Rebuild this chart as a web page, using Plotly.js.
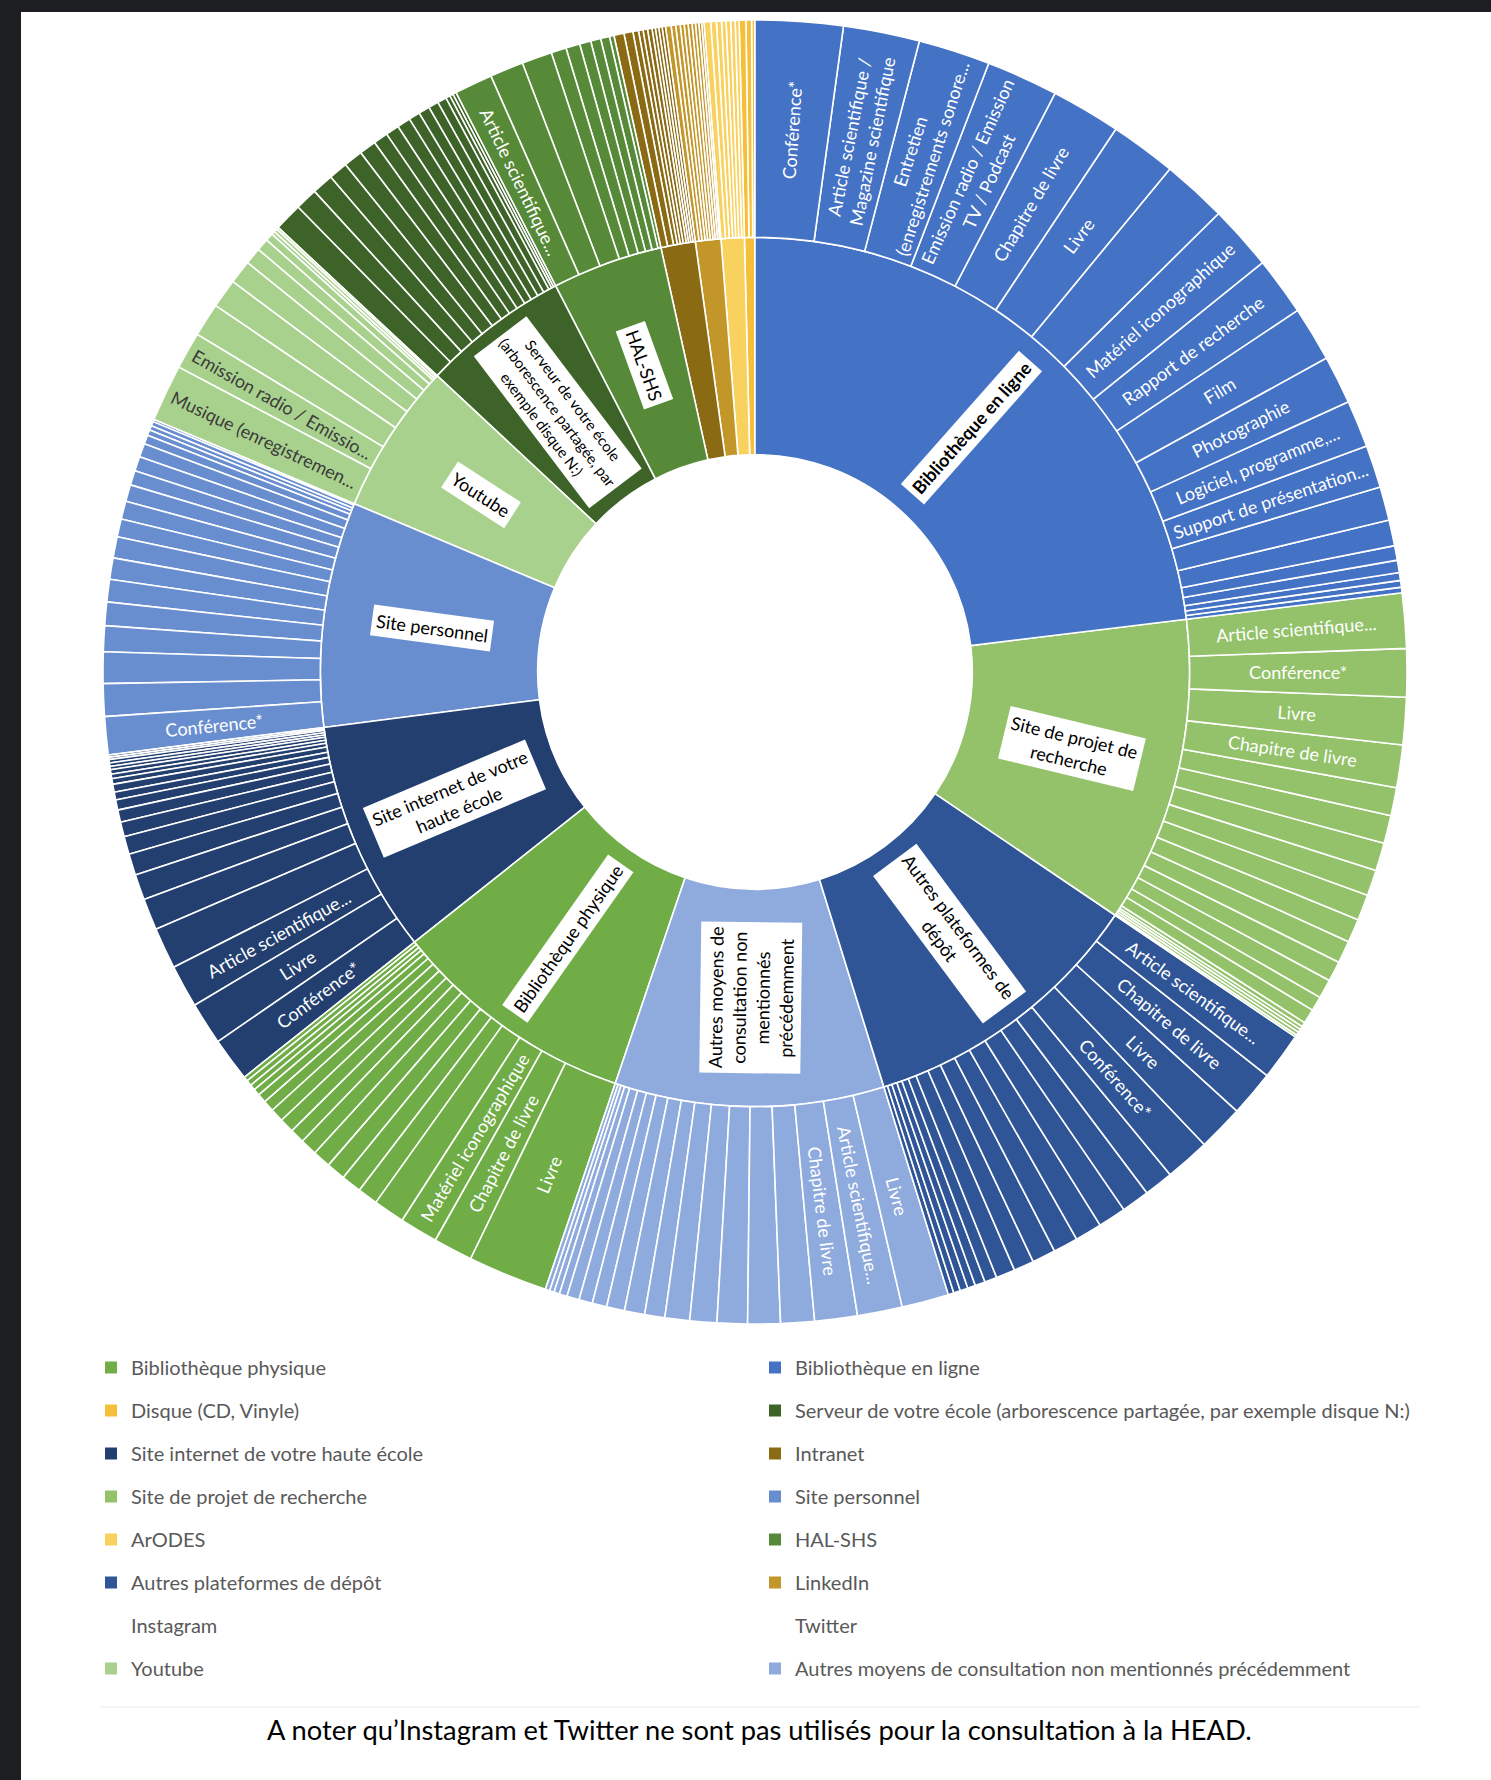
<!DOCTYPE html>
<html>
<head>
<meta charset="utf-8">
<script src="https://cdn.plot.ly/plotly-3.0.1.min.js"></script>
<style>
html,body{margin:0;padding:0;background:#1d1e22;width:1491px;height:1780px;overflow:hidden}
#frame{position:absolute;left:21px;top:12px;width:1470px;height:1768px;background:#ffffff}
#chart{width:1470px;height:1768px}
</style>
</head>
<body>
<div id="frame"><div id="chart"></div></div>
<script>
// ---------- DATA (clockwise from 12 o'clock, as in the reference) ----------
const categories = [
  "Bibliothèque en ligne",
  "Site de projet de recherche",
  "Autres plateformes de dépôt",
  "Autres moyens de consultation non mentionnés précédemment",
  "Bibliothèque physique",
  "Site internet de votre haute école",
  "Site personnel",
  "Youtube",
  "Serveur de votre école (arborescence partagée, par exemple disque N:)",
  "HAL-SHS",
  "Intranet",
  "LinkedIn",
  "ArODES",
  "Disque (CD, Vinyle)"
];
const categoryLabelText = [
  "<b>Bibliothèque en ligne</b>",
  "Site de projet de<br>recherche",
  "Autres plateformes de<br>dépôt",
  "Autres moyens de<br>consultation non<br>mentionnés<br>précédemment",
  "Bibliothèque physique",
  "Site internet de votre<br>haute école",
  "Site personnel",
  "Youtube",
  "Serveur de votre école<br>(arborescence partagée, par<br>exemple disque N:)",
  "HAL-SHS",
  "", "", "", ""
];

const bibliothequeEnLigneLabels = ["Conférence*", "Article scientifique /<br>Magazine scientifique", "Entretien<br>(enregistrements sonore...", "Emission radio / Emission<br>TV / Podcast", "Chapitre de livre", "Livre", "", "Matériel iconographique", "Rapport de recherche", "Film", "Photographie", "Logiciel, programme,...", "Support de présentation...", "", "", "", "", "", "", ""];
const bibliothequeEnLigneValues = [7.8, 6.8, 6.4, 6.4, 6.2, 5.9, 5.8, 5.8, 5.2, 4.9, 4.3, 4.2, 3.8, 3.0, 2.3, 1.3, 1.1, 0.7, 0.6, 0.5];

const siteProjetLabels = ["Article scientifique...", "Conférence*", "Livre", "Chapitre de livre", "", "", "", "", "", "", "", "", "", "", "", "", "", "", "", ""];
const siteProjetValues = [4.9, 4.3, 4.2, 3.8, 2.5, 2.5, 2.5, 2.3, 2.3, 2.1, 2.0, 1.8, 1.7, 1.3, 1.3, 0.4, 0.3, 0.3, 0.3, 0.2];

const autresPlateformesLabels = ["Article scientifique...", "Chapitre de livre", "Livre", "Conférence*", "", "", "", "", "", "", "", "", "", "", "", "", "", ""];
const autresPlateformesValues = [4.2, 4.1, 4.1, 4.0, 2.6, 2.5, 2.5, 2.4, 2.2, 2.1, 1.8, 1.7, 1.1, 0.9, 0.7, 0.7, 0.6, 0.5];

const autresMoyensLabels = ["Livre", "Article scientifique...", "Chapitre de livre", "", "", "", "", "", "", "", "", "", "", "", "", "", "", ""];
const autresMoyensValues = [4.2, 4.0, 3.8, 3.0, 2.9, 2.7, 2.4, 2.2, 1.8, 1.8, 1.6, 1.3, 1.2, 1.1, 0.7, 0.5, 0.4, 0.4];

const bibliothequePhysiqueLabels = ["Livre", "Chapitre de livre", "Matériel iconographique", "", "", "", "", "", "", "", "", "", "", "", "", "", "", ""];
const bibliothequePhysiqueValues = [7.1, 3.5, 3.4, 2.8, 1.8, 1.8, 1.7, 1.6, 1.5, 1.3, 1.3, 1.2, 1.0, 0.8, 0.6, 0.5, 0.5, 0.4];

const siteInternetLabels = ["Conférence*", "Livre", "Article scientifique...", "", "", "", "", "", "", "", "", "", "", "", "", "", "", "", "", "", ""];
const siteInternetValues = [3.9, 3.8, 3.8, 3.7, 2.8, 2.3, 1.9, 1.6, 1.3, 1.1, 0.9, 0.7, 0.7, 0.5, 0.4, 0.4, 0.3, 0.3, 0.3, 0.2, 0.2];

const sitePersonnelLabels = ["Conférence*", "", "", "", "", "", "", "", "", "", "", "", "", "", "", "", "", "", ""];
const sitePersonnelValues = [3.4, 2.9, 2.8, 2.3, 2.1, 2.0, 1.9, 1.9, 1.6, 1.6, 1.5, 1.3, 1.3, 1.2, 0.8, 0.5, 0.4, 0.4, 0.2];

const youtubeLabels = ["Musique (enregistremen...", "Emission radio / Emissio...", "", "", "", "", "", "", "", "", ""];
const youtubeValues = [5.1, 3.3, 3.0, 2.6, 2.1, 1.5, 1.1, 0.7, 0.3, 0.3, 0.2];

const serveurLabels = ["", "", "", "", "", "", "", "", "", "", "", "", "", "", "", ""];
const serveurValues = [2.5, 2.0, 1.9, 1.7, 1.7, 1.5, 1.3, 1.2, 1.2, 1.0, 1.0, 0.9, 0.8, 0.4, 0.3, 0.3];

const halShsLabels = ["Article scientifique...", "", "", "", "", "", "", "", ""];
const halShsValues = [3.4, 3.0, 2.7, 1.35, 1.25, 1.0, 0.9, 0.8, 0.4];

const intranetLabels = ["", "", "", "", "", "", "", "", "", ""];
const intranetValues = [0.9, 0.8, 0.5, 0.4, 0.4, 0.4, 0.3, 0.3, 0.3, 0.3];

const linkedinLabels = ["", "", "", "", "", "", "", "", "", ""];
const linkedinValues = [0.5, 0.4, 0.4, 0.35, 0.35, 0.35, 0.3, 0.3, 0.25, 0.2];

const arodesLabels = ["", "", "", "", "", "", ""];
const arodesValues = [0.6, 0.5, 0.45, 0.4, 0.4, 0.4, 0.35];

const disqueLabels = ["", "", ""];
const disqueValues = [0.6, 0.5, 0.3];

const legendLeftColumn = ["Bibliothèque physique", "Disque (CD, Vinyle)", "Site internet de votre haute école", "Site de projet de recherche", "ArODES", "Autres plateformes de dépôt", "Instagram", "Youtube"];
const legendRightColumn = ["Bibliothèque en ligne", "Serveur de votre école (arborescence partagée, par exemple disque N:)", "Intranet", "Site personnel", "HAL-SHS", "LinkedIn", "Twitter", "Autres moyens de consultation non mentionnés précédemment"];

const footnote = "A noter qu’Instagram et Twitter ne sont pas utilisés pour la consultation à la HEAD.";

// ---------- STYLE ----------
const colorByCategory = {
  "Bibliothèque en ligne": "#4472C4",
  "Site de projet de recherche": "#93C26A",
  "Autres plateformes de dépôt": "#2F5597",
  "Autres moyens de consultation non mentionnés précédemment": "#8FAADC",
  "Bibliothèque physique": "#70AD47",
  "Site internet de votre haute école": "#233F70",
  "Site personnel": "#698ED0",
  "Youtube": "#A9D18E",
  "Serveur de votre école (arborescence partagée, par exemple disque N:)": "#3D6329",
  "HAL-SHS": "#578A38",
  "Intranet": "#8A6A12",
  "LinkedIn": "#C3962A",
  "ArODES": "#F9D15E",
  "Disque (CD, Vinyle)": "#F6BF3A",
  "Instagram": "rgba(0,0,0,0)",
  "Twitter": "rgba(0,0,0,0)"
};
const darkTextCategories = ["Youtube"];
const FONT = "Lato, 'Open Sans', sans-serif";
const OUTER_FONT_SIZE = 18;

const childLabels = [bibliothequeEnLigneLabels, siteProjetLabels, autresPlateformesLabels, autresMoyensLabels, bibliothequePhysiqueLabels, siteInternetLabels, sitePersonnelLabels, youtubeLabels, serveurLabels, halShsLabels, intranetLabels, linkedinLabels, arodesLabels, disqueLabels];
const childValues = [bibliothequeEnLigneValues, siteProjetValues, autresPlateformesValues, autresMoyensValues, bibliothequePhysiqueValues, siteInternetValues, sitePersonnelValues, youtubeValues, serveurValues, halShsValues, intranetValues, linkedinValues, arodesValues, disqueValues];

// Pad outer labels with no-break spaces so Plotly centres them radially in the ring
const measureCtx = document.createElement("canvas").getContext("2d");
measureCtx.font = OUTER_FONT_SIZE + "px Lato";
const nbspW = measureCtx.measureText("\u00A0").width || 4.5;
const PAD_TARGET = 196;
function centreLabel(t) {
  if (!t) return t;
  return t.split("<br>").map(line => {
    const w = measureCtx.measureText(line).width;
    const n = Math.max(0, Math.floor((PAD_TARGET - w) / 2 / nbspW));
    const s = "\u00A0".repeat(n);
    return s + line + s;
  }).join("<br>");
}

// ---------- BUILD SUNBURST (Plotly draws counter-clockwise, so feed reversed) ----------
// an invisible white root forms the central hole
const ids = ["root"], labels = [" "], parents = [""], values = [0], colors = ["#ffffff"], texts = [""], textColors = ["#ffffff"];
for (let c = categories.length - 1; c >= 0; c--) {
  const cat = categories[c];
  ids.push(cat); labels.push(cat); parents.push("root"); values.push(0);
  colors.push(colorByCategory[cat]); texts.push(""); textColors.push("#000000");
  const lv = childLabels[c], vv = childValues[c];
  for (let j = vv.length - 1; j >= 0; j--) {
    ids.push(cat + "|" + j);
    labels.push(lv[j] ? lv[j].replace(/<br>/g, " ") : cat);
    parents.push(cat);
    values.push(vv[j]);
    colors.push(colorByCategory[cat]);
    texts.push(centreLabel(lv[j]));
    textColors.push(darkTextCategories.includes(cat) ? "#3b3b3b" : "#ffffff");
  }
}

const W = 1470, H = 1768;
// sunburst centre and radius in page pixels of this frame
const centreX = 734, centreY = 660, radius = 652;
const dom = {
  x: [(centreX - radius) / W, (centreX + radius) / W],
  y: [1 - (centreY + radius) / H, 1 - (centreY - radius) / H]
};

const traces = [{
  type: "sunburst",
  ids: ids, labels: labels, parents: parents, values: values,
  branchvalues: "remainder",
  sort: false,
  rotation: 90,
  text: texts,
  textinfo: "text",
  insidetextorientation: "radial",
  insidetextfont: {family: FONT, size: OUTER_FONT_SIZE, color: textColors},
  marker: {colors: colors, line: {color: "#ffffff", width: 1.6}},
  leaf: {opacity: 1},
  hoverinfo: "none",
  domain: dom
}];

function legendTrace(name, legendId) {
  return {
    type: "scatter", mode: "markers", x: [null], y: [null], name: name,
    legend: legendId, legendgroup: name, showlegend: true,
    marker: {symbol: "square", size: 12, color: colorByCategory[name]},
    hoverinfo: "none"
  };
}
legendLeftColumn.forEach(n => traces.push(legendTrace(n, "legend")));
legendRightColumn.forEach(n => traces.push(legendTrace(n, "legend2")));

// ---------- INNER LABELS (boxes), positioned from the data ----------
const cx = W * (dom.x[0] + dom.x[1]) / 2;
const cy = H * (1 - (dom.y[0] + dom.y[1]) / 2);
const R = Math.min(W * (dom.x[1] - dom.x[0]), H * (dom.y[1] - dom.y[0])) / 2;
const catTotals = childValues.map(a => a.reduce((s, v) => s + v, 0));
const grand = catTotals.reduce((s, v) => s + v, 0);
const annotations = [];
let cum = 0;
categories.forEach((cat, i) => {
  const mid = (cum + catTotals[i] / 2) / grand * 360;
  cum += catTotals[i];
  if (!categoryLabelText[i]) return;
  const th = mid * Math.PI / 180;
  const r = R / 2;
  const px = cx + r * Math.sin(th), py = cy - r * Math.cos(th);
  const ang = mid < 180 ? mid - 90 : mid - 270;
  annotations.push({
    xref: "paper", yref: "paper", x: px / W, y: 1 - py / H,
    xanchor: "center", yanchor: "middle", showarrow: false,
    text: categoryLabelText[i], textangle: ang,
    font: {family: FONT, size: cat.startsWith("Serveur") ? 15 : 18, color: "#000000"},
    bgcolor: "#ffffff", borderpad: 4, align: "center"
  });
});
annotations.push({
  xref: "paper", yref: "paper", x: 739 / W, y: 1 - 1717 / H,
  xanchor: "center", yanchor: "middle", showarrow: false,
  text: footnote, font: {family: FONT, size: 27.3, color: "#000000"}
});

const legendCommon = {
  orientation: "v", yanchor: "top", xanchor: "left",
  font: {family: FONT, size: 20, color: "#595959"},
  bgcolor: "rgba(0,0,0,0)", tracegroupgap: 14, itemwidth: 30
};

const layout = {
  width: W, height: H,
  margin: {l: 0, r: 0, t: 0, b: 0},
  paper_bgcolor: "#ffffff", plot_bgcolor: "#ffffff",
  font: {family: FONT},
  xaxis: {visible: false}, yaxis: {visible: false},
  legend: Object.assign({x: 70 / W, y: 1 - 1336 / H}, legendCommon),
  legend2: Object.assign({x: 734 / W, y: 1 - 1336 / H}, legendCommon),
  annotations: annotations,
  shapes: [{type: "line", xref: "paper", yref: "paper", x0: 79 / W, x1: 1399 / W, y0: 1 - 1695 / H, y1: 1 - 1695 / H, line: {color: "#ececec", width: 1}}]
};

Plotly.newPlot("chart", traces, layout, {displayModeBar: false, staticPlot: true});
</script>
</body>
</html>
